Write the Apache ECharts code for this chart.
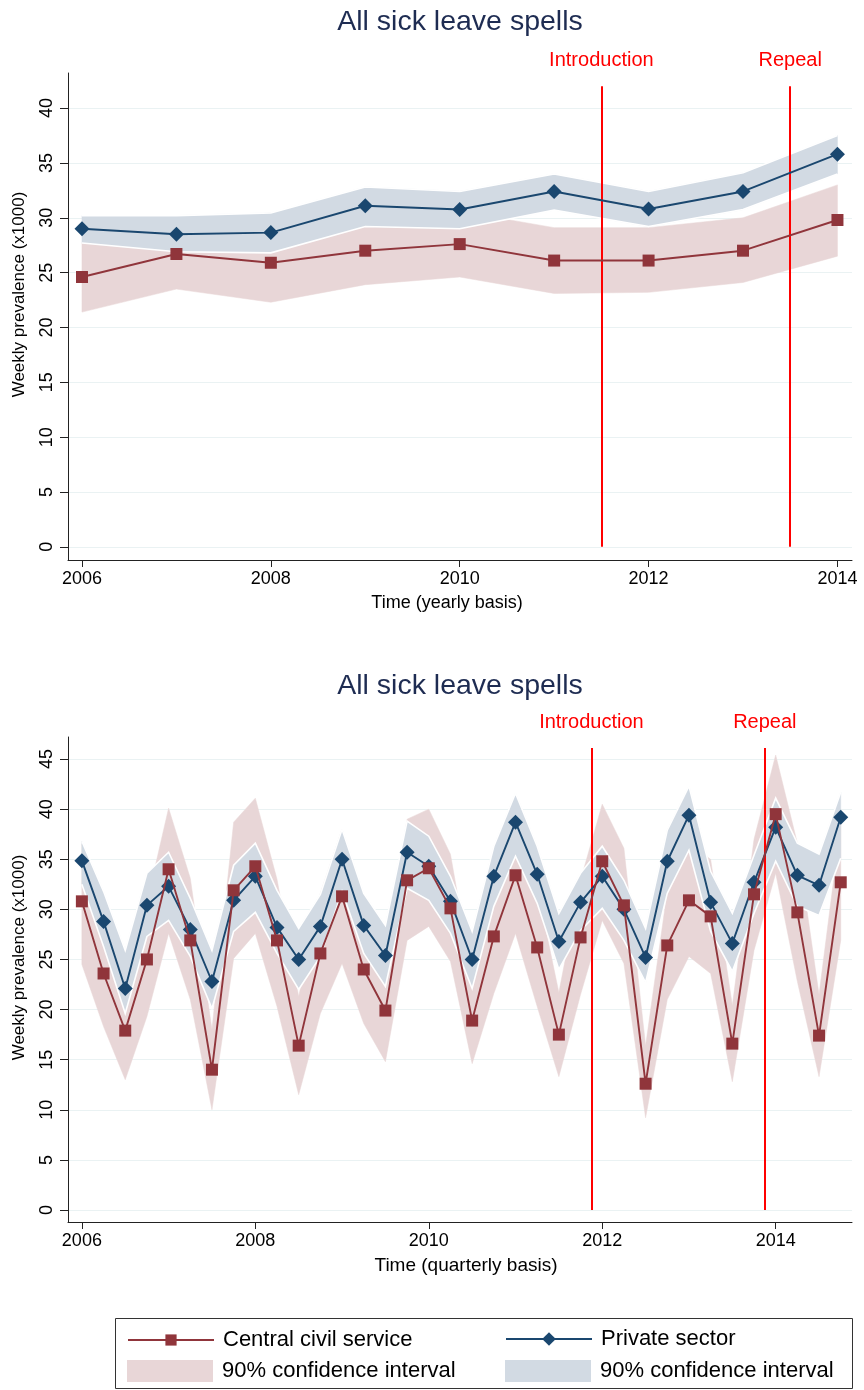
<!DOCTYPE html>
<html><head><meta charset="utf-8">
<script src="https://cdn.jsdelivr.net/npm/echarts@6/dist/echarts.min.js"></script>
<style>html,body{margin:0;padding:0;background:#fff}#c{width:864px;height:1390px}</style>
</head><body><div id="c"></div>
<script>
// ---------- data: yearly ----------
const years = [2006, 2007, 2008, 2009, 2010, 2011, 2012, 2013, 2014];
const civYear   = [24.6, 26.7, 25.9, 27.0, 27.6, 26.1, 26.1, 27.0, 29.8];
const civYearLo = [21.4, 23.5, 22.3, 23.9, 24.6, 23.1, 23.2, 24.1, 26.5];
const civYearHi = [27.7, 27.6, 27.2, 29.4, 30.6, 29.1, 29.1, 30.0, 33.0];
const priYear   = [29.0, 28.5, 28.65, 31.1, 30.75, 32.4, 30.8, 32.4, 35.8];
const priYearLo = [27.7, 26.9, 26.8, 29.2, 29.0, 30.7, 29.2, 30.75, 34.0];
const priYearHi = [30.2, 30.2, 30.45, 32.8, 32.4, 34.0, 32.4, 34.1, 37.5];

// ---------- data: quarterly ----------
const quarters = [2006, 2006.25, 2006.5, 2006.75, 2007, 2007.25, 2007.5, 2007.75,
  2008, 2008.25, 2008.5, 2008.75, 2009, 2009.25, 2009.5, 2009.75,
  2010, 2010.25, 2010.5, 2010.75, 2011, 2011.25, 2011.5, 2011.75,
  2012, 2012.25, 2012.5, 2012.75, 2013, 2013.25, 2013.5, 2013.75,
  2014, 2014.25, 2014.5, 2014.75];
const civQ   = [30.8, 23.6, 17.9, 25.0, 34.0, 26.9, 14.0, 31.9, 34.3, 26.9, 16.4, 25.6,
  31.3, 24.0, 19.9, 32.9, 34.1, 30.1, 18.9, 27.3, 33.4, 26.2, 17.5, 27.2,
  34.8, 30.4, 12.6, 26.4, 30.9, 29.3, 16.6, 31.5, 39.5, 29.7, 17.4, 32.7];
const civQLo = [24.5, 18.3, 13.0, 19.3, 27.6, 21.0, 10.0, 25.1, 27.6, 20.3, 11.5, 19.6,
  24.6, 18.6, 14.8, 26.9, 28.3, 24.8, 14.6, 21.6, 27.6, 20.3, 13.3, 21.5,
  28.9, 24.6, 9.2, 21.0, 25.3, 23.6, 12.8, 25.9, 33.6, 22.8, 13.3, 26.9];
const civQHi = [36.5, 28.9, 22.8, 30.7, 40.1, 33.1, 18.0, 38.7, 41.1, 33.0, 21.3, 31.6,
  38.0, 29.4, 25.0, 39.0, 40.0, 35.5, 23.2, 33.0, 39.2, 32.1, 21.7, 32.9,
  40.5, 36.1, 16.4, 31.8, 36.5, 35.0, 20.4, 37.0, 45.4, 36.6, 21.5, 38.5];
const priQ   = [34.86, 28.8, 22.1, 30.4, 32.3, 28.0, 22.8, 30.9, 33.3, 28.2, 25.0, 28.3,
  35.0, 28.4, 25.4, 35.7, 34.3, 30.8, 25.0, 33.3, 38.7, 33.5, 26.8, 30.7,
  33.3, 30.0, 25.2, 34.8, 39.4, 30.7, 26.6, 32.7, 38.2, 33.4, 32.4, 39.2];
const priQLo = [32.5, 26.3, 19.6, 27.3, 28.9, 25.3, 20.1, 27.8, 29.7, 25.6, 22.0, 25.3,
  31.8, 25.6, 22.3, 32.1, 30.9, 27.6, 22.1, 30.3, 35.3, 30.6, 24.0, 27.9,
  30.1, 26.9, 22.7, 31.6, 35.9, 27.8, 23.8, 29.6, 34.8, 30.3, 29.4, 35.1];
const priQHi = [36.8, 31.8, 25.9, 33.6, 35.7, 31.1, 25.9, 34.4, 36.6, 31.9, 28.1, 31.5,
  38.0, 31.6, 28.4, 38.8, 37.3, 33.3, 27.8, 36.3, 41.6, 36.3, 29.6, 33.6,
  36.3, 32.9, 28.1, 37.9, 42.3, 33.8, 29.6, 35.4, 41.1, 36.6, 35.5, 41.7];

// ---------- ticks / events ----------
const xTicks = [2006, 2008, 2010, 2012, 2014];
const yTicksTop = [0, 5, 10, 15, 20, 25, 30, 35, 40];
const yTicksBot = [0, 5, 10, 15, 20, 25, 30, 35, 40, 45];
const eventNames = ['Introduction', 'Repeal'];
const eventsYear = [2011.5, 2013.5];
const eventsQuarter = [2011.875, 2013.875];
const eventTopYear = 42.0;
const eventTopQuarter = 46.1;

const title = 'All sick leave spells';
const yName = 'Weekly prevalence (x1000)';
const civName = 'Central civil service';
const priName = 'Private sector';
const ciName = '90% confidence interval';

// ---------- styles ----------
const FONT = 'Liberation Sans, Arial, sans-serif';
const RED = '#90353B', BLUE = '#1A476F';
const RED_FILL = '#E8D6D7', BLUE_FILL = '#D2DAE3';
const GRID = '#EAF2F3';

const pairs = (xs, ys) => xs.map((x, i) => [x, ys[i]]);

// confidence band drawn as one polygon through the axis scales
function bandSeries(idx, xs, lo, hi, key, fill, white, z) {
  return {
    type: 'custom', name: key, xAxisIndex: idx, yAxisIndex: idx, z: z, silent: true,
    clip: true,
    itemStyle: { color: fill },
    encode: { x: 0, y: [1, 2] },
    data: xs.map((x, i) => [x, lo[i], hi[i]]),
    renderItem: function (params, api) {
      if (params.dataIndex !== 0) return null;
      const up = xs.map((x, i) => api.coord([x, hi[i]]));
      const dn = xs.map((x, i) => api.coord([x, lo[i]]));
      const children = [{
        type: 'polygon', shape: { points: up.concat(dn.slice().reverse()) },
        style: { fill: fill, stroke: fill, lineWidth: 0.5 }
      }];
      if (white) {
        children.push({ type: 'polyline', shape: { points: up }, style: { fill: null, stroke: '#fff', lineWidth: 1.6 } });
        children.push({ type: 'polyline', shape: { points: dn }, style: { fill: null, stroke: '#fff', lineWidth: 1.6 } });
      }
      return { type: 'group', children: children };
    }
  };
}

function mainSeries(idx, xs, ys, name, color, symbol, size, z) {
  return { type: 'line', name: name, xAxisIndex: idx, yAxisIndex: idx,
    data: pairs(xs, ys), symbol: symbol, symbolSize: size, showSymbol: true, z: z,
    itemStyle: { color: color }, lineStyle: { color: color, width: 1.9 }, silent: true };
}

function eventLines(xs, top) {
  return {
    symbol: 'none', silent: true, animation: false,
    lineStyle: { color: '#FF0000', width: 2, type: 'solid' },
    label: { show: true, position: 'end', distance: 16, color: '#FF0000', fontSize: 20,
      fontFamily: FONT, formatter: p => p.name },
    data: xs.map((x, i) => [{ coord: [x, 0], name: eventNames[i] }, { coord: [x, top], name: eventNames[i] }])
  };
}

function xAxisCfg(idx, min, max, name, nameSize, namePad) {
  return { type: 'value', gridIndex: idx, min: min, max: max,
    name: name, nameLocation: 'middle', nameGap: 34,
    nameTextStyle: { fontSize: nameSize, fontFamily: FONT, color: '#000', padding: namePad },
    axisLine: { show: true, onZero: false, lineStyle: { color: '#222', width: 1 } },
    axisTick: { show: true, length: 7, customValues: xTicks, lineStyle: { color: '#222' } },
    axisLabel: { customValues: xTicks, fontSize: 18, fontFamily: FONT, color: '#000', margin: 10,
      formatter: v => String(v) },
    splitLine: { show: false } };
}
function yAxisCfg(idx, min, max, ticks) {
  return { type: 'value', gridIndex: idx, min: min, max: max,
    name: yName, nameLocation: 'middle', nameGap: 40,
    nameTextStyle: { fontSize: 17, fontFamily: FONT, color: '#000', padding: [0, 0, 0, 44] },
    axisLine: { show: true, onZero: false, lineStyle: { color: '#222', width: 1 } },
    axisTick: { show: true, length: 8, customValues: ticks, lineStyle: { color: '#222' } },
    axisLabel: { customValues: ticks, rotate: 90, fontSize: 18, fontFamily: FONT, color: '#000', margin: 12,
      formatter: v => String(v) },
    splitLine: { show: true, lineStyle: { color: GRID, width: 1.2 } } };
}

const civTop = mainSeries(0, years, civYear, civName, RED, 'rect', 12, 6);
civTop.markLine = eventLines(eventsYear, eventTopYear);
const civBot = mainSeries(1, quarters, civQ, civName, RED, 'rect', 12, 6);
civBot.markLine = eventLines(eventsQuarter, eventTopQuarter);

const series = [
  bandSeries(0, years, civYearLo, civYearHi, 'ciCiv', RED_FILL, false, 1),
  bandSeries(0, years, priYearLo, priYearHi, 'ciPri', BLUE_FILL, true, 2),
  mainSeries(0, years, priYear, priName, BLUE, 'diamond', 15, 5),
  civTop,
  bandSeries(1, quarters, civQLo, civQHi, 'ciCiv', RED_FILL, false, 1),
  bandSeries(1, quarters, priQLo, priQHi, 'ciPri', BLUE_FILL, true, 2),
  mainSeries(1, quarters, priQ, priName, BLUE, 'diamond', 15, 5),
  civBot
];

const legText = { fontSize: 22, fontFamily: FONT, color: '#000', padding: [0, 0, 0, 4] };
function legend(left, top, name, h, icon, fmt) {
  const item = icon ? { name: name, icon: icon } : { name: name };
  return { left: left, top: top, orient: 'horizontal', itemWidth: 86, itemHeight: h,
    selectedMode: false, data: [item], textStyle: legText,
    itemStyle: { borderWidth: 0 },
    formatter: fmt ? (() => fmt) : undefined };
}

const option = {
  animation: false,
  backgroundColor: '#fff',
  title: [
    { text: title, left: 455, top: 3, textAlign: 'center',
      textStyle: { fontSize: 28.5, fontWeight: 'normal', fontFamily: FONT, color: '#1E2C52' } },
    { text: title, left: 455, top: 667, textAlign: 'center',
      textStyle: { fontSize: 28.5, fontWeight: 'normal', fontFamily: FONT, color: '#1E2C52' } }
  ],
  grid: [
    { left: 68, right: 12, top: 73, bottom: 830 },
    { left: 68, right: 12, top: 737, bottom: 168 }
  ],
  xAxis: [
    xAxisCfg(0, 2005.852, 2014.154, 'Time (yearly basis)', 18, [0, 26, 0, 0]),
    xAxisCfg(1, 2005.84, 2014.88, 'Time (quarterly basis)', 19, [0, 0, 0, 12])
  ],
  yAxis: [
    yAxisCfg(0, -1.2, 43.2, yTicksTop),
    yAxisCfg(1, -1.2, 47.2, yTicksBot)
  ],
  legend: [
    legend(122, 1324, civName, 14, null, null),
    legend(500, 1323, priName, 17, null, null),
    legend(122, 1355, 'ciCiv', 22, 'rect', ciName),
    legend(500, 1355, 'ciPri', 22, 'rect', ciName)
  ],
  graphic: [
    { type: 'rect', shape: { x: 115.5, y: 1318.5, width: 737, height: 70 },
      style: { fill: 'none', stroke: '#333', lineWidth: 1 }, silent: true }
  ],
  series: series
};

const chart = echarts.init(document.getElementById('c'), null, { renderer: 'canvas' });
chart.setOption(option);
</script></body></html>
